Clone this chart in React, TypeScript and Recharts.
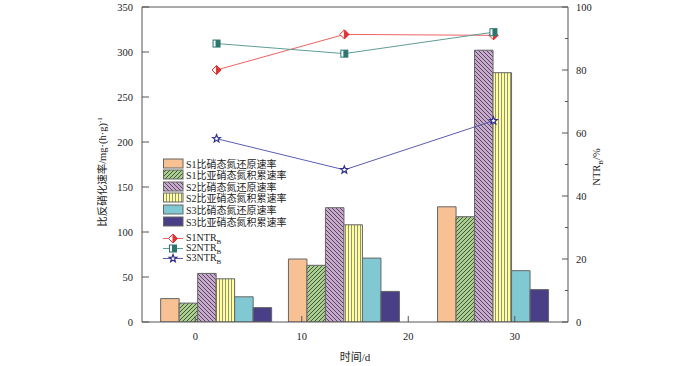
import { ComposedChart, Bar, Line, XAxis, YAxis, Legend, ReferenceLine } from 'recharts'

const FONT = "'Liberation Serif', 'Noto Sans CJK SC', serif"
const AXIS = '#555'

// sampling days (d)
const days = [2, 14, 28]

// specific rates, mg·(h·g)^-1
const s1Reduction = [26, 70, 128]
const s1Accumulation = [21, 63, 117]
const s2Reduction = [54, 127, 302]
const s2Accumulation = [48, 108, 277]
const s3Reduction = [28, 71, 57]
const s3Accumulation = [16, 34, 36]

// NTR_B, %
const s1Ntr = [80, 91.3, 91]
const s2Ntr = [88.4, 85.2, 92]
const s3Ntr = [58.2, 48.3, 63.9]

const xTicks = [0, 10, 20, 30]
const leftTicks = [0, 50, 100, 150, 200, 250, 300, 350]
const rightTicks = [0, 10, 20, 30, 40, 50, 60, 70, 80, 90, 100]

const data = days.map((day, i) => ({
  day,
  s1r: s1Reduction[i],
  s1a: s1Accumulation[i],
  s2r: s2Reduction[i],
  s2a: s2Accumulation[i],
  s3r: s3Reduction[i],
  s3a: s3Accumulation[i],
  n1: s1Ntr[i],
  n2: s2Ntr[i],
  n3: s3Ntr[i],
}))

const barSeries = [
  { key: 's1r', name: 'S1比硝态氮还原速率', fill: '#F7C193' },
  { key: 's1a', name: 'S1比亚硝态氮积累速率', fill: 'url(#hatchGreen)' },
  { key: 's2r', name: 'S2比硝态氮还原速率', fill: 'url(#hatchLilac)' },
  { key: 's2a', name: 'S2比亚硝态氮积累速率', fill: 'url(#stripeYellow)' },
  { key: 's3r', name: 'S3比硝态氮还原速率', fill: '#80C8D2' },
  { key: 's3a', name: 'S3比亚硝态氮积累速率', fill: '#493F86' },
]

const lineSeries = [
  { key: 'n1', label: 'S1NTR', line: '#F06262', mark: '#E03434', shape: 'diamond' },
  { key: 'n2', label: 'S2NTR', line: '#5F9C98', mark: '#2B756E', shape: 'square' },
  { key: 'n3', label: 'S3NTR', line: '#5C5CB2', mark: '#2F2F8C', shape: 'star' },
]

function Marker({ cx, cy, shape, color }: any) {
  if (cx == null || cy == null) return null
  if (shape === 'diamond') {
    const r = 4.5
    return (
      <g>
        <polygon points={`${cx},${cy - r} ${cx + r},${cy} ${cx},${cy + r} ${cx - r},${cy}`} fill="#fff" stroke={color} />
        <polygon points={`${cx},${cy - r} ${cx + r},${cy} ${cx},${cy + r}`} fill={color} stroke={color} />
      </g>
    )
  }
  if (shape === 'square') {
    const h = 3.5
    return (
      <g>
        <rect x={cx - h} y={cy - h} width={2 * h} height={2 * h} fill="#fff" stroke={color} />
        <rect x={cx - 1} y={cy - h} width={h + 1} height={2 * h} fill={color} />
      </g>
    )
  }
  const pts: string[] = []
  for (let k = 0; k < 10; k++) {
    const r = k % 2 === 0 ? 4 : 1.7
    const a = -Math.PI / 2 + (k * Math.PI) / 5
    pts.push(`${cx + r * Math.cos(a)},${cy + r * Math.sin(a)}`)
  }
  return <polygon points={pts.join(' ')} fill="#fff" stroke={color} strokeWidth={1.2} />
}

function LeftTick({ x, y, payload }: any) {
  return (
    <g>
      <line x1={x} x2={x + 7} y1={y} y2={y} stroke={AXIS} />
      <text x={x - 9} y={y} dy="0.35em" textAnchor="end" fontSize={10.5} fontFamily={FONT} fill="#222">
        {payload.value}
      </text>
    </g>
  )
}

function RightTick({ x, y, payload }: any) {
  const major = payload.value % 20 === 0
  return (
    <g>
      <line x1={x - (major ? 6 : 3)} x2={x} y1={y} y2={y} stroke={AXIS} />
      {major && (
        <text x={x + 8} y={y} dy="0.35em" textAnchor="start" fontSize={10.5} fontFamily={FONT} fill="#222">
          {payload.value}
        </text>
      )}
    </g>
  )
}

function BottomTick({ x, y, payload }: any) {
  return (
    <g>
      <line x1={x} x2={x} y1={y} y2={y - 6} stroke={AXIS} />
      <text x={x} y={y + 18} textAnchor="middle" fontSize={10.5} fontFamily={FONT} fill="#222">
        {payload.value}
      </text>
    </g>
  )
}

function LegendBox() {
  return (
    <div style={{ position: 'relative', width: 140, height: 112, fontFamily: FONT, fontSize: 10, color: '#222' }}>
      {barSeries.map((s, i) => (
        <div key={s.key} style={{ position: 'absolute', left: 0, top: 13 + i * 11.6 - 6, height: 12, display: 'flex', alignItems: 'center', whiteSpace: 'nowrap' }}>
          <svg width={21} height={11} style={{ marginRight: 2 }}>
            <rect x={0.5} y={1} width={19.5} height={9} fill={s.fill} stroke="#666" />
          </svg>
          <span>{s.name}</span>
        </div>
      ))}
      {lineSeries.map((s, i) => (
        <div key={s.key} style={{ position: 'absolute', left: 0, top: 88.5 + i * 10 - 6, height: 12, display: 'flex', alignItems: 'center', whiteSpace: 'nowrap' }}>
          <svg width={21} height={11} style={{ marginRight: 2 }}>
            <line x1={0} x2={20} y1={5.5} y2={5.5} stroke={s.line} />
            <Marker cx={10} cy={5.5} shape={s.shape} color={s.mark} />
          </svg>
          <span>
            {s.label}
            <sub style={{ fontSize: 7 }}>B</sub>
          </span>
        </div>
      ))}
    </div>
  )
}

export default function App() {
  return (
    <div style={{ width: 700, height: 366, background: '#fff' }}>
      <style>{'body{margin:0}'}</style>
      <ComposedChart width={700} height={366} data={data} margin={{ top: 7, right: 0, bottom: 0, left: 0 }} barGap={0} barSize={18.5}>
        <defs>
          <pattern id="hatchGreen" patternUnits="userSpaceOnUse" width={4} height={4}>
            <rect width={4} height={4} fill="#A8D08C" />
            <path d="M-1,1 L1,-1 M0,4 L4,0 M3,5 L5,3" stroke="#333" strokeWidth={0.8} />
          </pattern>
          <pattern id="hatchLilac" patternUnits="userSpaceOnUse" width={4} height={4}>
            <rect width={4} height={4} fill="#C9A9CF" />
            <path d="M-1,3 L1,5 M0,0 L4,4 M3,-1 L5,1" stroke="#333" strokeWidth={0.8} />
          </pattern>
          <pattern id="stripeYellow" patternUnits="userSpaceOnUse" width={3} height={4}>
            <rect width={3} height={4} fill="#FFFF9E" />
            <line x1={0.5} x2={0.5} y1={0} y2={4} stroke="#777" strokeWidth={0.8} />
          </pattern>
        </defs>
        <XAxis
          dataKey="day"
          type="number"
          domain={[-5, 35]}
          ticks={xTicks}
          interval={0}
          height={44}
          allowDataOverflow
          axisLine={{ stroke: AXIS }}
          tickLine={false}
          tickSize={0}
          tickMargin={0}
          tick={<BottomTick />}
          label={() => (
            <text x={355} y={361} textAnchor="middle" fontSize={11} fontFamily={FONT} fill="#222">
              时间/d
            </text>
          )}
        />
        <YAxis
          yAxisId="left"
          domain={[0, 350]}
          ticks={leftTicks}
          interval={0}
          width={142}
          allowDataOverflow
          axisLine={{ stroke: AXIS }}
          tickLine={false}
          tickSize={0}
          tickMargin={0}
          tick={<LeftTick />}
          label={() => (
            <text transform="translate(106,172) rotate(-90)" textAnchor="middle" fontSize={10.5} fontFamily={FONT} fill="#222">
              比反硝化速率/mg·(h·g)
              <tspan dy={-4} fontSize={7}>-1</tspan>
            </text>
          )}
        />
        <YAxis
          yAxisId="right"
          orientation="right"
          domain={[0, 100]}
          ticks={rightTicks}
          interval={0}
          width={132}
          allowDataOverflow
          axisLine={{ stroke: AXIS }}
          tickLine={false}
          tickSize={0}
          tickMargin={0}
          tick={<RightTick />}
          label={() => (
            <text transform="translate(600,167) rotate(-90)" textAnchor="middle" fontSize={10.5} fontFamily={FONT} fill="#222">
              NTR
              <tspan dy={3} fontSize={7}>B</tspan>
              <tspan dy={-3}>/%</tspan>
            </text>
          )}
        />
        <ReferenceLine yAxisId="left" y={350} stroke={AXIS} />
        {barSeries.map((s) => (
          <Bar key={s.key} yAxisId="left" dataKey={s.key} name={s.name} fill={s.fill} stroke="#666" strokeWidth={1} isAnimationActive={false} />
        ))}
        {lineSeries.map((s) => (
          <Line
            key={s.key}
            yAxisId="right"
            dataKey={s.key}
            stroke={s.line}
            strokeWidth={1}
            isAnimationActive={false}
            dot={(p: any) => <Marker key={`${s.key}-${p.index}`} cx={p.cx} cy={p.cy} shape={s.shape} color={s.mark} />}
            activeDot={false}
          />
        ))}
        <Legend
          layout="vertical"
          align="center"
          verticalAlign="middle"
          content={() => <LegendBox />}
          wrapperStyle={{ left: 163, top: 150, width: 140, height: 112 }}
        />
      </ComposedChart>
    </div>
  )
}
